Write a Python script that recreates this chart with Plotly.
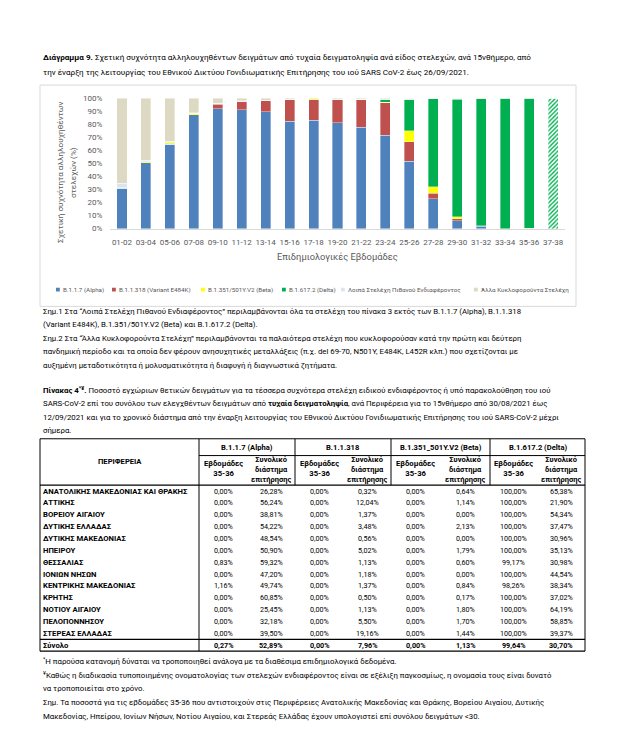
import plotly.graph_objects as go

W, H = 617, 745
FONT = "Roboto, 'Noto Sans', sans-serif"

# ---------------- chart data ----------------
weeks = ["01-02", "03-04", "05-06", "07-08", "09-10", "11-12", "13-14", "15-16", "17-18",
         "19-20", "21-22", "23-24", "25-26", "27-28", "29-30", "31-32", "33-34", "35-36", "37-38"]
alpha = [31.0, 50.6, 64.9, 87.3, 91.9, 91.3, 89.8, 82.2, 83.2, 81.4, 77.9, 71.5, 51.7, 22.9, 6.1, 2.0, 0.0, 0.3, 0.0]
variant_e484k = [0.0, 0.0, 0.0, 0.2, 3.5, 6.4, 8.1, 16.8, 15.8, 17.6, 20.9, 24.9, 14.8, 4.1, 1.5, 0.4, 0.0, 0.0, 0.0]
beta = [0.5, 0.7, 1.0, 1.0, 0.2, 0.0, 0.0, 0.0, 0.5, 0.0, 0.3, 0.5, 8.7, 5.3, 1.5, 0.0, 0.0, 0.0, 0.0]
delta = [0.0, 0.0, 0.0, 0.0, 0.0, 0.0, 0.0, 0.0, 0.0, 0.0, 0.0, 1.8, 23.7, 67.2, 90.3, 97.2, 100.0, 99.6, 100.0]
other_interest = [3.5, 1.3, 1.0, 0.3, 0.5, 0.5, 0.5, 0.3, 0.2, 0.3, 0.3, 0.8, 1.1, 0.5, 0.6, 0.0, 0.0, 0.1, 0.0]
other_circulating = [65.0, 47.4, 33.1, 11.2, 3.9, 1.8, 1.6, 0.7, 0.3, 0.7, 0.6, 0.5, 0.0, 0.0, 0.0, 0.4, 0.0, 0.0, 0.0]
preliminary = ["37-38"]

series_names = ["B.1.1.7 (Alpha)", "B.1.1.318 (Variant E484K)", "B.1.351/501Y.V2 (Beta)",
                "B.1.617.2 (Delta)", "Λοιπά Στελέχη Πιθανού Ενδιαφέροντος", "Άλλα Κυκλοφορούντα Στελέχη"]
y_ticks = [0, 10, 20, 30, 40, 50, 60, 70, 80, 90, 100]

# ---------------- table data ----------------
regions = ["ΑΝΑΤΟΛΙΚΗΣ ΜΑΚΕΔΟΝΙΑΣ ΚΑΙ ΘΡΑΚΗΣ", "ΑΤΤΙΚΗΣ", "ΒΟΡΕΙΟΥ ΑΙΓΑΙΟΥ", "ΔΥΤΙΚΗΣ ΕΛΛΑΔΑΣ",
           "ΔΥΤΙΚΗΣ ΜΑΚΕΔΟΝΙΑΣ", "ΗΠΕΙΡΟΥ", "ΘΕΣΣΑΛΙΑΣ", "ΙΟΝΙΩΝ ΝΗΣΩΝ", "ΚΕΝΤΡΙΚΗΣ ΜΑΚΕΔΟΝΙΑΣ",
           "ΚΡΗΤΗΣ", "ΝΟΤΙΟΥ ΑΙΓΑΙΟΥ", "ΠΕΛΟΠΟΝΝΗΣΟΥ", "ΣΤΕΡΕΑΣ ΕΛΛΑΔΑΣ"]
total_label = "Σύνολο"
groups = ["B.1.1.7 (Alpha)", "B.1.1.318", "B.1.351_501Y.V2 (Beta)", "B.1.617.2 (Delta)"]
alpha_wk = [0.00, 0.00, 0.00, 0.00, 0.00, 0.00, 0.83, 0.00, 1.16, 0.00, 0.00, 0.00, 0.00, 0.27]
alpha_tot = [26.28, 56.24, 38.81, 54.22, 48.54, 50.90, 59.32, 47.20, 49.74, 60.85, 25.45, 32.18, 39.50, 52.89]
b318_wk = [0.00, 0.00, 0.00, 0.00, 0.00, 0.00, 0.00, 0.00, 0.00, 0.00, 0.00, 0.00, 0.00, 0.00]
b318_tot = [0.32, 12.04, 1.37, 3.48, 0.56, 5.02, 1.13, 1.18, 1.37, 0.50, 1.13, 5.50, 19.16, 7.96]
beta_wk = [0.00, 0.00, 0.00, 0.00, 0.00, 0.00, 0.00, 0.00, 0.00, 0.00, 0.00, 0.00, 0.00, 0.00]
beta_tot = [0.64, 1.14, 0.00, 2.13, 0.00, 1.79, 0.60, 0.00, 0.84, 0.17, 1.80, 1.70, 1.44, 1.13]
delta_wk = [100.00, 100.00, 100.00, 100.00, 100.00, 100.00, 99.17, 100.00, 98.26, 100.00, 100.00, 100.00, 100.00, 99.64]
delta_tot = [65.38, 21.90, 54.34, 37.47, 30.96, 35.13, 30.98, 44.54, 38.34, 37.02, 64.19, 58.85, 39.37, 30.70]

# ---------------- text ----------------
chart_title = [
    "<b>Διάγραμμα 9.</b> Σχετική συχνότητα αλληλουχηθέντων δειγμάτων από τυχαία δειγματοληψία ανά είδος στελεχών, ανά 15νθήμερο, από",
    "την έναρξη της λειτουργίας του Εθνικού Δικτύου Γονιδιωματικής Επιτήρησης του ιού SARS CoV-2 έως 26/09/2021.",
]
notes = [
    "Σημ.1 Στα “Λοιπά Στελέχη Πιθανού Ενδιαφέροντος” περιλαμβάνονται όλα τα στελέχη του πίνακα 3 εκτός των B.1.1.7 (Alpha), B.1.1.318",
    "(Variant E484K), B.1.351/501Y.V2 (Beta) και B.1.617.2 (Delta).",
    "Σημ.2 Στα “Άλλα Κυκλοφορούντα Στελέχη” περιλαμβάνονται τα παλαιότερα στελέχη που κυκλοφορούσαν κατά την πρώτη και δεύτερη",
    "πανδημική περίοδο και τα οποία δεν φέρουν ανησυχητικές μεταλλάξεις (π.χ. del 69-70, N501Y, E484K, L452R κλπ.) που σχετίζονται με",
    "αυξημένη μεταδοτικότητα ή μολυσματικότητα ή διαφυγή ή διαγνωστικά ζητήματα.",
]
table_title = [
    "<b>Πίνακας 4<sup>*¥</sup>.</b> Ποσοστό εγχώριων θετικών δειγμάτων για τα τέσσερα συχνότερα στελέχη ειδικού ενδιαφέροντος ή υπό παρακολούθηση του ιού",
    "SARS-CoV-2 επί του συνόλου των ελεγχθέντων δειγμάτων από <b>τυχαία δειγματοληψία</b>, ανά Περιφέρεια για το 15νθήμερο από 30/08/2021 έως",
    "12/09/2021 και για το χρονικό διάστημα από την έναρξη λειτουργίας του Εθνικού Δικτύου Γονιδιωματικής Επιτήρησης του ιού SARS-CoV-2 μέχρι",
    "σήμερα.",
]
footnotes = [
    "<sup>*</sup>Η παρούσα κατανομή δύναται να τροποποιηθεί ανάλογα με τα διαθέσιμα επιδημιολογικά δεδομένα.",
    "<sup>¥</sup>Καθώς η διαδικασία τυποποιημένης ονοματολογίας των στελεχών ενδιαφέροντος είναι σε εξέλιξη παγκοσμίως, η ονομασία τους είναι δυνατό",
    "να τροποποιείται στο χρόνο.",
    "Σημ. Τα ποσοστά για τις εβδομάδες 35-36 που αντιστοιχούν στις Περιφέρειες Ανατολικής Μακεδονίας και Θράκης, Βορείου Αιγαίου, Δυτικής",
    "Μακεδονίας, Ηπείρου, Ιονίων Νήσων, Νοτίου Αιγαίου, και Στερεάς Ελλάδας έχουν υπολογιστεί επί συνόλου δειγμάτων <30.",
]

# ---------------- helpers ----------------
def px(x):
    return x / W


def py(y):
    return 1 - y / H


annotations = []
shapes = []


def text(x, y, s, size=8, color="#000000", anchor="left", **kw):
    annotations.append(dict(x=px(x), y=py(y), xref="paper", yref="paper", text=s, showarrow=False,
                            xanchor=anchor, yanchor="middle", align=anchor,
                            font=dict(family=FONT, size=size, color=color), **kw))


def hline(x0, x1, y, width=1, color="#000000"):
    shapes.append(dict(type="line", xref="paper", yref="paper", x0=px(x0), x1=px(x1), y0=py(y), y1=py(y),
                       line=dict(color=color, width=width)))


def vline(x, y0, y1, width=1, color="#000000"):
    shapes.append(dict(type="line", xref="paper", yref="paper", x0=px(x), x1=px(x), y0=py(y0), y1=py(y1),
                       line=dict(color=color, width=width)))


# ---------------- bar chart ----------------
colors = ["#4F81BD", "#C0504D", "#FFFF00", "#00B050", "#DBE5F1", "#DDD9C3"]
values = [alpha, variant_e484k, beta, delta, other_interest, other_circulating]

fig = go.Figure()
for name, vals, col in zip(series_names, values, colors):
    pattern = None
    if name == "B.1.617.2 (Delta)":
        pattern = dict(shape=["/" if w in preliminary else "" for w in weeks], size=3, solidity=0.45,
                       fillmode="replace")
    fig.add_trace(go.Bar(
        x=weeks, y=[v / 100 for v in vals], name=name, showlegend=False,
        marker=dict(color=col, line=dict(color="rgba(255,255,255,0.45)", width=0.8), pattern=pattern),
        hoverinfo="skip",
    ))

plot_left, plot_right = 102, 557
plot_top, plot_bottom = 87.3, 219.3

fig.update_layout(
    width=W, height=H, barmode="stack", bargap=0.58,
    margin=dict(l=0, r=0, t=0, b=0),
    paper_bgcolor="white", plot_bgcolor="white",
    xaxis=dict(domain=[px(plot_left), px(plot_right)], type="category",
               showgrid=False, showline=True, linecolor="#D9D9D9", linewidth=1,
               ticks="outside", ticklen=6, tickcolor="rgba(0,0,0,0)",
               tickfont=dict(family=FONT, size=8, color="#595959")),
    yaxis=dict(domain=[py(plot_bottom), py(plot_top)], range=[0, 1.0], tickvals=[t / 100 for t in y_ticks],
               ticktext=[f"{t}%" for t in y_ticks], showgrid=False, zeroline=False, showline=False,
               ticks="outside", ticklen=5, tickcolor="rgba(0,0,0,0)",
               tickfont=dict(family=FONT, size=8, color="#595959")),
)

# chart frame
shapes.append(dict(type="rect", xref="paper", yref="paper", x0=px(32), x1=px(568), y0=py(298), y1=py(74),
                   line=dict(color="#D9D9D9", width=1), layer="below"))

# axis titles
text(330, 247, "Επιδημιολογικές Εβδομάδες", size=9.3, color="#595959", anchor="center")
text(52, 163, "Σχετική συχνότητα αλληλουχηθέντων", size=8.1, color="#595959", anchor="center", textangle=-90)
text(65, 163, "στελεχών (%)", size=8.1, color="#595959", anchor="center", textangle=-90)

# legend (manual, small square markers)
legend_x = [48, 104, 193, 274, 333, 466]
for name, col, lx in zip(series_names, colors, legend_x):
    shapes.append(dict(type="rect", xref="paper", yref="paper", x0=px(lx), x1=px(lx + 3.8),
                       y0=py(282.9), y1=py(279.1), line=dict(width=0), fillcolor=col))
    text(lx + 4.5, 281, name, size=6.25, color="#595959")

# ---------------- text blocks ----------------
text(33, 46, chart_title[0], size=8.1)
text(33, 61, chart_title[1], size=8.1)
for i, line in enumerate(notes):
    text(33, 303 + 13.6 * i, line, size=7.8)
for i, line in enumerate(table_title):
    text(33, 383 + 13.7 * i, line, size=7.8)
for i, line in enumerate(footnotes):
    text(33, 657 + 14 * i, line, size=7.8)

# ---------------- table ----------------
t_left, t_right = 32, 577
reg_right = 191
group_edges = [191, 287, 383, 482, 577]
t_top, h1_bottom, h_bottom = 432, 449, 479
row_h = 12
n_rows = len(regions)
sum_top = h_bottom + row_h * n_rows
t_bottom = sum_top + row_h

hline(t_left, t_right, t_top)
hline(reg_right, t_right, h1_bottom)
hline(t_left, t_right, h_bottom, width=1.3)
hline(t_left, t_right, sum_top, width=1.3)
hline(t_left, t_right, t_bottom, width=1.3)
vline(t_left, t_top, t_bottom)
vline(t_right, t_top, t_bottom)
vline(reg_right, t_top, t_bottom)
for ge in group_edges[1:-1]:
    vline(ge, t_top, h_bottom)

text((t_left + reg_right) / 2, 455, "<b>ΠΕΡΙΦΕΡΕΙΑ</b>", size=7.6, anchor="center")
col_centers = []
for g, (g0, g1) in enumerate(zip(group_edges[:-1], group_edges[1:])):
    wk_c = g0 + 0.25 * (g1 - g0)
    tot_c = g0 + 0.75 * (g1 - g0)
    col_centers += [wk_c, tot_c]
    text((g0 + g1) / 2, 441, f"<b>{groups[g]}</b>", size=7.6, anchor="center")
    text(wk_c, 462, "<b>Εβδομάδες<br>35-36</b>", size=7.7, anchor="center")
    text(tot_c, 463, "<b>Συνολικό<br>διάστημα<br>επιτήρησης</b>", size=7.5, anchor="center")


def pct(v):
    return f"{v:.2f}".replace(".", ",") + "%"


table_cols = [alpha_wk, alpha_tot, b318_wk, b318_tot, beta_wk, beta_tot, delta_wk, delta_tot]
row_labels = regions + [total_label]
for r, lab in enumerate(row_labels):
    yc = h_bottom + row_h * r + row_h / 2
    text(t_left + 1, yc, f"<b>{lab}</b>", size=7.7)
    for c, col_vals in enumerate(table_cols):
        s = pct(col_vals[r])
        if lab == total_label:
            s = f"<b>{s}</b>"
        text(col_centers[c], yc, s, size=7.2, anchor="center")

fig.update_layout(annotations=annotations, shapes=shapes)
fig.write_html("out.html")
